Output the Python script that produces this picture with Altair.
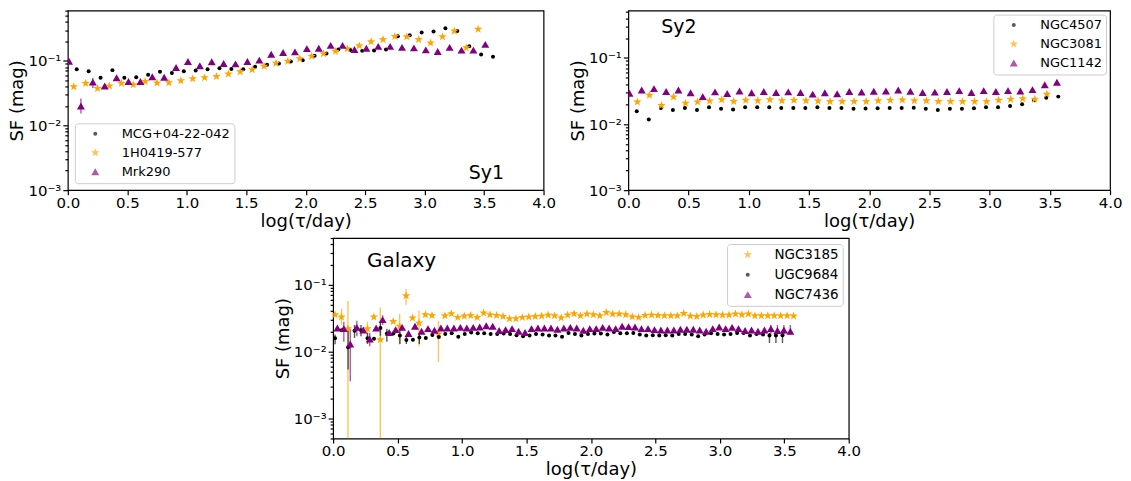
import altair as alt
import pandas as pd

FONT = "DejaVu Sans"
BLACK, ORANGE, PURPLE = "black", "#FFA500", "#800080"
STAR = ("M0,-1L0.235,-0.324L0.951,-0.309L0.38,0.124L0.588,0.809L0,0.4"
        "L-0.588,0.809L-0.38,0.124L-0.951,-0.309L-0.235,-0.324Z")

# ---------------- Sy1 ----------------
SY1_NAMES = ["MCG+04-22-042", "1H0419-577", "Mrk290"]
SY1_BLACK_X = [0.075, 0.175, 0.275, 0.375, 0.475, 0.575, 0.675, 0.775, 0.875, 0.975,
               1.075, 1.175, 1.275, 1.375, 1.475, 1.575, 1.675, 1.775, 1.875, 1.975,
               2.075, 2.175, 2.275, 2.375, 2.475, 2.575, 2.675, 2.775, 2.875, 2.975,
               3.075, 3.175, 3.275, 3.375, 3.475, 3.575]
SY1_BLACK_Y = [0.074, 0.069, 0.055, 0.072, 0.055, 0.056, 0.061, 0.068, 0.065, 0.069,
               0.071, 0.074, 0.077, 0.075, 0.074, 0.081, 0.087, 0.091, 0.098, 0.102,
               0.12, 0.13, 0.15, 0.148, 0.143, 0.145, 0.15, 0.24, 0.25, 0.275,
               0.285, 0.32, 0.29, 0.168, 0.126, 0.116]
SY1_ORANGE_X = [0.05, 0.15, 0.25, 0.35, 0.45, 0.55, 0.65, 0.75, 0.85, 0.95,
                1.05, 1.15, 1.25, 1.35, 1.45, 1.55, 1.65, 1.75, 1.85, 1.95,
                2.05, 2.15, 2.25, 2.35, 2.45, 2.55, 2.65, 2.75, 2.85, 2.95,
                3.05, 3.15, 3.25, 3.35, 3.45]
SY1_ORANGE_Y = [0.040, 0.045, 0.0375, 0.041, 0.045, 0.043, 0.048, 0.0455, 0.046, 0.0495,
                0.053, 0.055, 0.0575, 0.063, 0.068, 0.073, 0.083, 0.092, 0.099, 0.108,
                0.118, 0.129, 0.141, 0.155, 0.172, 0.198, 0.214, 0.24, 0.237, 0.214,
                0.19, 0.237, 0.29, 0.16, 0.31]
SY1_PURPLE_X = [0.01, 0.11, 0.21, 0.31, 0.41, 0.51, 0.61, 0.71, 0.81, 0.91,
                1.01, 1.11, 1.21, 1.31, 1.41, 1.51, 1.61, 1.71, 1.81, 1.91,
                2.01, 2.11, 2.21, 2.31, 2.41, 2.51, 2.61, 2.71, 2.81, 2.91,
                3.01, 3.11, 3.21, 3.31, 3.41, 3.51]
SY1_PURPLE_Y = [0.099, 0.020, 0.047, 0.041, 0.055, 0.048, 0.048, 0.057, 0.056, 0.079,
                0.098, 0.084, 0.097, 0.091, 0.090, 0.098, 0.103, 0.127, 0.135, 0.138,
                0.155, 0.157, 0.174, 0.174, 0.15, 0.157, 0.168, 0.168, 0.162, 0.159,
                0.148, 0.14, 0.162, 0.147, 0.147, 0.18]
SY1_PURPLE_ERR = {1: (0.0153, 0.0263), 2: (0.038, 0.055)}

# ---------------- Sy2 ----------------
SY2_NAMES = ["NGC4507", "NGC3081", "NGC1142"]
SY2_BLACK_X = [0.07, 0.17, 0.27, 0.37, 0.47, 0.57, 0.67, 0.77, 0.87, 0.97,
               1.07, 1.17, 1.27, 1.37, 1.47, 1.57, 1.67, 1.77, 1.87, 1.97,
               2.07, 2.17, 2.27, 2.37, 2.47, 2.57, 2.67, 2.77, 2.87, 2.97,
               3.07, 3.17, 3.27, 3.37, 3.47, 3.57]
SY2_BLACK_Y = [0.0156, 0.0117, 0.0175, 0.0163, 0.0175, 0.0163, 0.018, 0.0171, 0.0166, 0.0179,
               0.0179, 0.0179, 0.0175, 0.0175, 0.0175, 0.0179, 0.0175, 0.0175, 0.017, 0.0172,
               0.0173, 0.0175, 0.0175, 0.0177, 0.0171, 0.0163, 0.017, 0.017, 0.0173, 0.018,
               0.018, 0.0187, 0.020, 0.023, 0.025, 0.026]
SY2_ORANGE_X = [0.075, 0.175, 0.275, 0.375, 0.475, 0.575, 0.675, 0.775, 0.875, 0.975,
                1.075, 1.175, 1.275, 1.375, 1.475, 1.575, 1.675, 1.775, 1.875, 1.975,
                2.075, 2.175, 2.275, 2.375, 2.475, 2.575, 2.675, 2.775, 2.875, 2.975,
                3.075, 3.175, 3.275, 3.375, 3.475]
SY2_ORANGE_Y = [0.0216, 0.0274, 0.0191, 0.0257, 0.0207, 0.0216, 0.0224, 0.0234, 0.022, 0.0229,
                0.0226, 0.0234, 0.0226, 0.0229, 0.0226, 0.0224, 0.0219, 0.022, 0.022, 0.022,
                0.0226, 0.0229, 0.0232, 0.0226, 0.0226, 0.022, 0.022, 0.0219, 0.022, 0.0219,
                0.0229, 0.0237, 0.0242, 0.0237, 0.0284]
SY2_PURPLE_X = [0.01, 0.111, 0.213, 0.314, 0.416, 0.517, 0.618, 0.72, 0.821, 0.923,
                1.024, 1.125, 1.227, 1.328, 1.43, 1.531, 1.632, 1.734, 1.835, 1.937,
                2.038, 2.139, 2.241, 2.342, 2.444, 2.545, 2.646, 2.748, 2.849, 2.951,
                3.052, 3.153, 3.255, 3.356, 3.458, 3.559]
SY2_PURPLE_Y = [0.0293, 0.0328, 0.0343, 0.031, 0.0328, 0.0297, 0.026, 0.0307, 0.029, 0.0317,
                0.0297, 0.031, 0.030, 0.0307, 0.030, 0.0284, 0.0297, 0.0287, 0.031, 0.0305,
                0.0314, 0.0317, 0.0328, 0.0314, 0.030, 0.0304, 0.031, 0.032, 0.030, 0.032,
                0.031, 0.032, 0.0317, 0.0332, 0.0393, 0.043]

# ---------------- Galaxy ----------------
GAL_NAMES = ["NGC3185", "UGC9684", "NGC7436"]
GAL_ORANGE_X = [0.015, 0.065, 0.115, 0.266, 0.316, 0.366, 0.466, 0.516, 0.566, 0.616,
                0.666, 0.716, 0.767, 0.817, 0.867, 0.917, 0.967, 1.017, 1.067, 1.117,
                1.167, 1.217, 1.268, 1.318, 1.368, 1.418, 1.468, 1.518, 1.568, 1.618,
                1.668, 1.718, 1.769, 1.819, 1.869, 1.919, 1.969, 2.019, 2.069, 2.119,
                2.169, 2.219, 2.27, 2.32, 2.37, 2.42, 2.47, 2.52, 2.57, 2.62,
                2.67, 2.72, 2.771, 2.821, 2.871, 2.921, 2.971, 3.021, 3.071, 3.121,
                3.171, 3.221, 3.272, 3.322, 3.372, 3.422, 3.472, 3.522, 3.572]
GAL_ORANGE_Y = [0.0357, 0.0329, 0.022, 0.022, 0.0329, 0.0151, 0.0283, 0.0239, 0.0686, 0.0318,
                0.0267, 0.0357, 0.0348, 0.0183, 0.0345, 0.0369, 0.0325, 0.034, 0.0348, 0.0325,
                0.0378, 0.0357, 0.0348, 0.0336, 0.031, 0.031, 0.0325, 0.0329, 0.0336, 0.034,
                0.0352, 0.0345, 0.032, 0.0352, 0.0369, 0.0345, 0.0365, 0.0357, 0.0345, 0.0386,
                0.0365, 0.0365, 0.0357, 0.0333, 0.0325, 0.0348, 0.0352, 0.0348, 0.0345, 0.0345,
                0.0345, 0.0373, 0.034, 0.0336, 0.0352, 0.036, 0.0357, 0.0352, 0.0352, 0.0365,
                0.0357, 0.0365, 0.0345, 0.0345, 0.0345, 0.0345, 0.0345, 0.0345, 0.034]
GAL_ORANGE_ERR = {1: (0.0253, 0.0438), 2: (0.0005, 0.0577), 3: (0.016, 0.028),
                  5: (0.0005, 0.0458), 7: (0.0127, 0.0365), 8: (0.050, 0.087),
                  10: (0.012, 0.041), 13: (0.007, 0.029)}
GAL_BLACK_X = [0.015, 0.065, 0.116, 0.166, 0.216, 0.267, 0.317, 0.367, 0.417, 0.468,
               0.518, 0.568, 0.619, 0.669, 0.719, 0.77, 0.82, 0.87, 0.92, 0.971,
               1.021, 1.071, 1.122, 1.172, 1.222, 1.273, 1.323, 1.373, 1.423, 1.474,
               1.524, 1.574, 1.625, 1.675, 1.725, 1.776, 1.826, 1.876, 1.926, 1.977,
               2.027, 2.077, 2.128, 2.178, 2.228, 2.279, 2.329, 2.379, 2.429, 2.48,
               2.53, 2.58, 2.631, 2.681, 2.731, 2.782, 2.832, 2.882, 2.932, 2.983,
               3.033, 3.083, 3.134, 3.184, 3.234, 3.285, 3.335, 3.385, 3.435, 3.486]
GAL_BLACK_Y = [0.0158, 0.0208, 0.0116, 0.0205, 0.0208, 0.0158, 0.0155, 0.0225, 0.0186, 0.0186,
               0.0174, 0.0149, 0.015, 0.0162, 0.016, 0.0177, 0.0165, 0.0183, 0.0188, 0.0167,
               0.0183, 0.0192, 0.0188, 0.0188, 0.0183, 0.0183, 0.0186, 0.0183, 0.0175, 0.017,
               0.0174, 0.0183, 0.018, 0.0174, 0.0174, 0.0167, 0.019, 0.0183, 0.0174, 0.0183,
               0.0186, 0.0186, 0.018, 0.0196, 0.0188, 0.0188, 0.019, 0.018, 0.0174, 0.0175,
               0.0174, 0.0175, 0.0174, 0.0183, 0.0183, 0.018, 0.017, 0.018, 0.0188, 0.0183,
               0.018, 0.0183, 0.019, 0.019, 0.0174, 0.0183, 0.018, 0.0174, 0.0174, 0.0175]
GAL_BLACK_ERR = {0: (0.0129, 0.018), 2: (0.0054, 0.0225), 3: (0.016, 0.025), 4: (0.017, 0.025),
                 5: (0.013, 0.019), 7: (0.017, 0.028), 8: (0.014, 0.022), 10: (0.013, 0.021),
                 11: (0.013, 0.017), 13: (0.013, 0.019), 67: (0.0134, 0.019),
                 68: (0.0134, 0.019), 69: (0.0134, 0.019)}
GAL_PURPLE_X = [0.033, 0.083, 0.133, 0.184, 0.234, 0.284, 0.334, 0.384, 0.435, 0.485,
                0.535, 0.585, 0.635, 0.686, 0.736, 0.786, 0.836, 0.886, 0.937, 0.987,
                1.037, 1.087, 1.137, 1.188, 1.238, 1.288, 1.338, 1.388, 1.439, 1.489,
                1.539, 1.589, 1.639, 1.69, 1.74, 1.79, 1.84, 1.89, 1.941, 1.991,
                2.041, 2.091, 2.141, 2.192, 2.242, 2.292, 2.342, 2.392, 2.443, 2.493,
                2.543, 2.593, 2.643, 2.694, 2.744, 2.794, 2.844, 2.894, 2.945, 2.995,
                3.045, 3.095, 3.145, 3.196, 3.246, 3.296, 3.346, 3.396, 3.447, 3.497, 3.547]
GAL_PURPLE_Y = [0.0225, 0.022, 0.013, 0.023, 0.021, 0.0154, 0.0225, 0.030, 0.0193, 0.0213,
                0.023, 0.0186, 0.0239, 0.0201, 0.022, 0.0208, 0.0225, 0.0225, 0.0225, 0.023,
                0.0225, 0.023, 0.0233, 0.0243, 0.0239, 0.0206, 0.0213, 0.022, 0.0201, 0.0193,
                0.022, 0.0225, 0.0225, 0.0225, 0.0216, 0.0225, 0.023, 0.0225, 0.0208, 0.022,
                0.022, 0.023, 0.0225, 0.022, 0.0239, 0.0236, 0.0233, 0.022, 0.022, 0.0213,
                0.021, 0.021, 0.021, 0.0216, 0.0216, 0.0216, 0.021, 0.0201, 0.022, 0.0233,
                0.022, 0.023, 0.022, 0.0206, 0.021, 0.0201, 0.021, 0.022, 0.0206, 0.021, 0.0201]
GAL_PURPLE_ERR = {1: (0.014, 0.028), 2: (0.0036, 0.0215), 3: (0.017, 0.029), 5: (0.012, 0.019),
                  7: (0.025, 0.035), 67: (0.018, 0.025), 68: (0.018, 0.025),
                  69: (0.018, 0.025), 70: (0.018, 0.025)}

X_TICKS = [0.0, 0.5, 1.0, 1.5, 2.0, 2.5, 3.0, 3.5, 4.0]
MAJOR = [0.001, 0.01, 0.1]
MINOR_LOW = [0.0005, 0.0006, 0.0007, 0.0008, 0.0009]
MINOR_MID = [0.002, 0.003, 0.004, 0.005, 0.006, 0.007, 0.008, 0.009,
             0.02, 0.03, 0.04, 0.05, 0.06, 0.07, 0.08, 0.09]
MINOR_TOP = [0.2, 0.3, 0.4, 0.5]

LABEL_EXPR = ("abs(datum.value-0.1)<1e-9 ? '10\u207b\u00b9' : "
              "abs(datum.value-0.01)<1e-10 ? '10\u207b\u00b2' : "
              "abs(datum.value-0.001)<1e-11 ? '10\u207b\u00b3' : ''")
MAJOR_TEST = "abs(log(datum.value)/LN10 - round(log(datum.value)/LN10)) < 0.001"


def frame(defs):
    rows = []
    for order, (name, color, xs, ys, errs) in enumerate(defs):
        if len(xs) != len(ys):
            raise ValueError(f"{name}: {len(xs)} x vs {len(ys)} y")
        for i, (x, y) in enumerate(zip(xs, ys)):
            lo, hi = errs.get(i, (None, None))
            rows.append(dict(series=name, col=color, x=x, y=y, lo=lo, hi=hi, order=order))
    return pd.DataFrame(rows)


def panel(df, names, colors, shapes, sizes, ydom, minors, w, h,
          lg_orient, lg_offset, lg_font, label, lx, ly, lsize):
    xscale = alt.Scale(domain=[0, 4], nice=False, zero=False)
    yscale = alt.Scale(type="log", domain=ydom, nice=False)
    xaxis = alt.Axis(values=X_TICKS, format=".1f", labelFlush=False, labelOverlap=False,
                     tickSize=4.5, labelPadding=1, titlePadding=2, grid=False, domain=False)
    yaxis = alt.Axis(values=sorted(MAJOR + minors), labelExpr=LABEL_EXPR,
                     labelOverlap=False, grid=False, domain=False, labelPadding=2,
                     titlePadding=1,
                     labelFontSize={"condition": {"test": MAJOR_TEST, "value": 15}, "value": 0},
                     tickSize={"condition": {"test": MAJOR_TEST, "value": 5}, "value": 3})
    legend = alt.Legend(title=None, orient=lg_orient, offset=lg_offset, padding=4,
                        fillColor="white", strokeColor="#cccccc", cornerRadius=3,
                        labelFont=FONT, labelFontSize=lg_font, symbolOffset=10,
                        labelOffset=20, rowPadding=5, symbolStrokeWidth=0,
                        symbolOpacity=1)
    base = alt.Chart(df)
    bars = base.transform_filter("isValid(datum.lo)").mark_rule(
        strokeWidth=1.4, opacity=0.65, clip=True).encode(
        x=alt.X("x:Q", scale=xscale, axis=xaxis, title="log(\u03c4/day)"),
        y=alt.Y("lo:Q", scale=yscale, axis=yaxis, title="SF (mag)"),
        y2="hi:Q",
        color=alt.Color("col:N", scale=None),
    )
    pts = base.mark_point(filled=True, opacity=1, clip=True).encode(
        x=alt.X("x:Q", scale=xscale, axis=xaxis, title="log(\u03c4/day)"),
        y=alt.Y("y:Q", scale=yscale, axis=yaxis, title="SF (mag)"),
        color=alt.Color("series:N", scale=alt.Scale(domain=names, range=colors), legend=legend),
        shape=alt.Shape("series:N", scale=alt.Scale(domain=names, range=shapes), legend=legend),
        size=alt.Size("series:N", scale=alt.Scale(type="ordinal", domain=names, range=sizes),
                      legend=legend),
        order=alt.Order("order:Q"),
    )
    txt = alt.Chart(pd.DataFrame({"t": [label]})).mark_text(
        align="left", baseline="middle", font=FONT, fontSize=lsize, color="black").encode(
        text="t:N", x=alt.value(lx), y=alt.value(ly))
    return alt.layer(bars, pts, txt).properties(width=w, height=h)


sy1 = frame([
    (SY1_NAMES[0], BLACK, SY1_BLACK_X, SY1_BLACK_Y, {}),
    (SY1_NAMES[1], ORANGE, SY1_ORANGE_X, SY1_ORANGE_Y, {}),
    (SY1_NAMES[2], PURPLE, SY1_PURPLE_X, SY1_PURPLE_Y, SY1_PURPLE_ERR),
])
sy2 = frame([
    (SY2_NAMES[0], BLACK, SY2_BLACK_X, SY2_BLACK_Y, {}),
    (SY2_NAMES[1], ORANGE, SY2_ORANGE_X, SY2_ORANGE_Y, {}),
    (SY2_NAMES[2], PURPLE, SY2_PURPLE_X, SY2_PURPLE_Y, {}),
])
gal = frame([
    (GAL_NAMES[0], ORANGE, GAL_ORANGE_X, GAL_ORANGE_Y, GAL_ORANGE_ERR),
    (GAL_NAMES[1], BLACK, GAL_BLACK_X, GAL_BLACK_Y, GAL_BLACK_ERR),
    (GAL_NAMES[2], PURPLE, GAL_PURPLE_X, GAL_PURPLE_Y, GAL_PURPLE_ERR),
])

p1 = panel(sy1, SY1_NAMES, [BLACK, ORANGE, PURPLE], ["circle", STAR, "triangle-up"],
           [16, 80, 64], [0.001, 0.6], MINOR_MID + MINOR_TOP + [0.6], 477, 180,
           "bottom-left", 7, 13, "Sy1", 402, 163, 19)
p2 = panel(sy2, SY2_NAMES, [BLACK, ORANGE, PURPLE], ["circle", STAR, "triangle-up"],
           [16, 80, 64], [0.001, 0.52], MINOR_MID + MINOR_TOP, 483, 180,
           "top-right", 4, 13, "Sy2", 33, 16, 19)
p3 = panel(gal, GAL_NAMES, [ORANGE, BLACK, PURPLE], [STAR, "circle", "triangle-up"],
           [80, 16, 64], [0.0005, 0.5], MINOR_LOW + MINOR_MID + MINOR_TOP, 517, 201,
           "top-right", 6, 13.5, "Galaxy", 34, 23, 20)

spacer = alt.Chart(pd.DataFrame({"a": [0]})).mark_point(opacity=0).encode(
    x=alt.value(0), y=alt.value(0)
).properties(width=205, height=10, view=alt.ViewBackground(stroke="transparent"))

IND = dict(color="independent", shape="independent", size="independent")
top = alt.hconcat(p1, p2, spacing=12).resolve_scale(**IND).resolve_legend(**IND)
bottom = alt.hconcat(spacer, p3, spacing=0).resolve_scale(**IND).resolve_legend(**IND)
chart = alt.vconcat(top, bottom, spacing=2).resolve_scale(
    **IND).resolve_legend(**IND).properties(background="white", padding=0).configure_view(
    stroke="black", strokeWidth=1.2
).configure_axis(
    labelFont=FONT, titleFont=FONT, labelFontSize=15, titleFontSize=18,
    titleFontWeight="normal", labelColor="black", titleColor="black",
    tickColor="black", tickWidth=1.2
)

chart.save("out.html", embed_options={"renderer": "svg", "actions": False})
